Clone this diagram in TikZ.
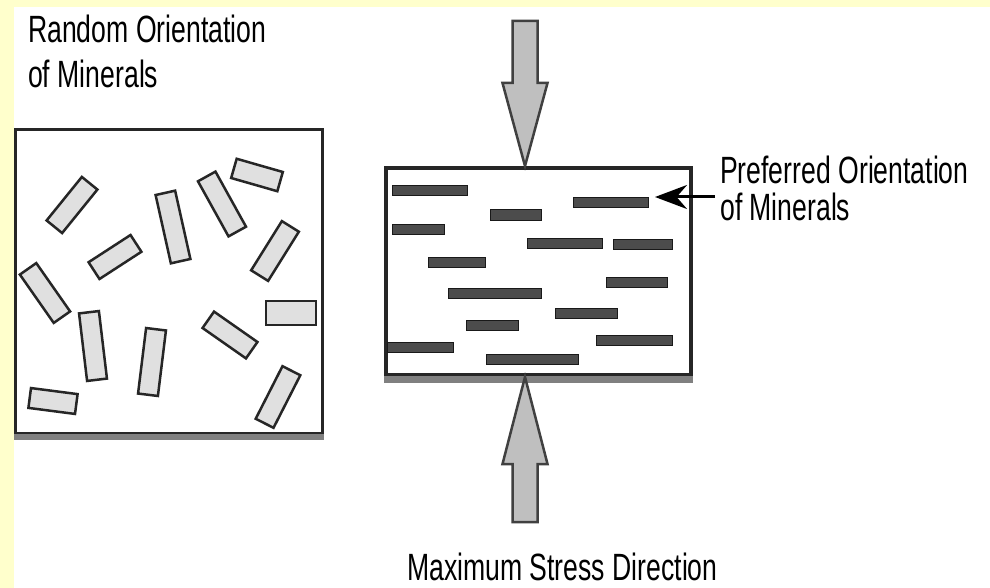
\documentclass[tikz,border=0pt]{standalone}
\usepackage{fontspec}
\newfontfamily\labelfont[FakeStretch=0.7]{Liberation Sans}
\usetikzlibrary{arrows.meta}
\definecolor{pagebg}{HTML}{FFFFCC}
\definecolor{grain}{HTML}{E0E0E0}

\begin{document}
\begin{tikzpicture}[x=1pt, y=-1pt,
        labeltext/.style={font=\labelfont\fontsize{38}{45}\selectfont, inner sep=0pt, align=left},
        mineral/.style={draw=black!85, fill=grain, line width=2.5pt, minimum height=20pt, inner sep=0pt},
        flatgrain/.style={draw=black!90, fill=black!70, line width=1pt, minimum height=10pt, inner sep=0pt},
        stress/.style={draw=black!75, fill=black!25, line width=2.5pt, line join=miter},
        pointer/.style={draw=black, line width=3pt, -{Stealth[length=32pt, width=24pt]}}]
    \useasboundingbox (0,0) rectangle (990,588);
    \fill[pagebg] (0,0) rectangle (990,588);
    \fill[white] (14,7) rectangle (990,588);

    % random texture
    \node[labeltext, anchor=north west] (randomlbl) at (28,14.5) {Random Orientation\\of Minerals};
    \node[draw=black!85, line width=3pt, minimum width=306.5pt, minimum height=303.5pt, inner sep=0pt] (random) at (168.75,281.25) {};
    \draw[black!50, line width=6pt] ([yshift=-2pt]random.south west) -- ([yshift=-2pt]random.south east);
    \node[mineral, minimum width=56pt, rotate=51] (m1) at (72,205) {};
    \node[mineral, minimum width=50pt, rotate=33] (m2) at (115,257) {};
    \node[mineral, minimum width=70pt, rotate=102.6] (m3) at (173,227) {};
    \node[mineral, minimum width=63pt, rotate=119] (m4) at (222,204) {};
    \node[mineral, minimum width=48pt, rotate=-16] (m5) at (257,175) {};
    \node[mineral, minimum width=58pt, rotate=58] (m6) at (275,251) {};
    \node[mineral, minimum width=59pt, rotate=125] (m7) at (45,293) {};
    \node[mineral, minimum width=50pt, minimum height=24pt] (m8) at (291,313) {};
    \node[mineral, minimum width=53pt, rotate=-35] (m9) at (230,335) {};
    \node[mineral, minimum width=68pt, rotate=96.8] (m10) at (93,346) {};
    \node[mineral, minimum width=66pt, rotate=83] (m11) at (152,362) {};
    \node[mineral, minimum width=47pt, rotate=-7.4] (m12) at (53,401) {};
    \node[mineral, minimum width=59pt, rotate=63] (m13) at (278,397) {};

    % aligned texture
    \node[draw=black!85, line width=4pt, minimum width=305pt, minimum height=207pt, inner sep=0pt] (aligned) at (538.5,271.5) {};
    \draw[black!50, line width=7pt] ([yshift=-2pt]aligned.south west) -- ([yshift=-2pt]aligned.south east);
    \node[flatgrain, minimum width=75pt] (b1) at (429.5,190.5) {};
    \node[flatgrain, minimum width=75pt] (b2) at (611,203) {};
    \node[flatgrain, minimum width=51pt] (b3) at (515.5,215) {};
    \node[flatgrain, minimum width=52pt] (b4) at (418,229.5) {};
    \node[flatgrain, minimum width=75pt] (b5) at (564.5,243.5) {};
    \node[flatgrain, minimum width=59pt] (b6) at (642.5,244) {};
    \node[flatgrain, minimum width=57pt] (b7) at (456.5,262.5) {};
    \node[flatgrain, minimum width=61pt] (b8) at (636.5,282) {};
    \node[flatgrain, minimum width=93pt] (b9) at (494.5,293.5) {};
    \node[flatgrain, minimum width=62pt] (b10) at (586,313) {};
    \node[flatgrain, minimum width=52pt] (b11) at (492,325) {};
    \node[flatgrain, minimum width=66pt] (b12) at (420,347) {};
    \node[flatgrain, minimum width=76pt] (b13) at (634,340) {};
    \node[flatgrain, minimum width=92pt] (b14) at (532,359) {};

    % stress arrows
    \draw[stress] ([xshift=-13.5pt]aligned.north) -- ++(-22.5,-83) -- ++(10,0) -- ++(0,-62)
        -- ++(25,0) -- ++(0,62) -- ++(10,0) -- cycle;
    \draw[stress] ([xshift=-13.5pt]aligned.south) -- ++(-22.5,87) -- ++(10,0) -- ++(0,58)
        -- ++(25,0) -- ++(0,-58) -- ++(10,0) -- cycle;
    \node[labeltext, anchor=base west] (stresslbl) at (407,580) {Maximum Stress Direction};

    % label for the aligned grains
    \node[labeltext, anchor=north west, font=\labelfont\fontsize{38}{37}\selectfont] (preflbl) at (720,155.5) {Preferred Orientation\\of Minerals};
    \coordinate (tail) at (715,197);
    \draw[pointer] (tail) -- ([xshift=6pt]b2.east |- tail);
\end{tikzpicture}
\end{document}
